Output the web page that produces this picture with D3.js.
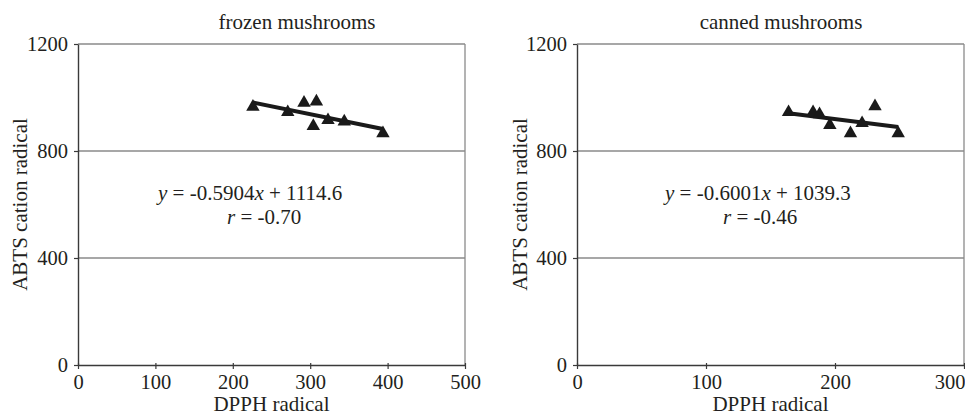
<!DOCTYPE html>
<html>
<head>
<meta charset="utf-8">
<script src="https://cdn.jsdelivr.net/npm/d3@7"></script>
<style>
  html, body { margin: 0; padding: 0; background: #fff; }
  svg text { font-family: "Liberation Serif", "DejaVu Serif", serif; fill: #231f20; }
</style>
</head>
<body>
<svg id="chart" width="965" height="417"></svg>
<script>
// DPPH (x) vs ABTS cation radical (y) for two mushroom preparations
const frozenDPPH = [226, 271, 292, 304, 308, 323, 344, 394];
const frozenABTS = [965, 945, 980, 893, 985, 915, 910, 866];
const frozenFit = { slope: -0.5904, intercept: 1114.6, r: "-0.70" };

const cannedDPPH = [164, 183, 188, 196, 212, 221, 231, 249];
const cannedABTS = [945, 945, 937, 897, 866, 904, 967, 866];
const cannedFit = { slope: -0.6001, intercept: 1039.3, r: "-0.46" };

const yTicks = [0, 400, 800, 1200];
const frozenXTicks = [0, 100, 200, 300, 400, 500];
const cannedXTicks = [0, 100, 200, 300];

const FONT = '"Liberation Serif", "DejaVu Serif", serif';
const FS = 21;
const TICK_FS = 20.5;
const svg = d3.select("#chart");

function panel(opts) {
  const { title, xs, ys, fit, xMax, xTicks, left, right, top, bottom,
          titleX, yLabelX, eqX, rX } = opts;
  const x = d3.scaleLinear().domain([0, xMax]).range([left, right]);
  const y = d3.scaleLinear().domain([0, 1200]).range([bottom, top]);
  const g = svg.append("g");

  // horizontal gridlines (including the top edge at 1200)
  g.selectAll("line.grid").data(yTicks.filter(d => d > 0)).join("line")
    .attr("class", "grid")
    .attr("x1", left).attr("x2", right)
    .attr("y1", d => y(d)).attr("y2", d => y(d))
    .attr("stroke", "#8a8a8a").attr("stroke-width", 1.3);

  // right border of plot area
  g.append("line")
    .attr("x1", right).attr("x2", right).attr("y1", top).attr("y2", bottom)
    .attr("stroke", "#8a8a8a").attr("stroke-width", 1.3);

  // axes
  const yAxis = d3.axisLeft(y).tickValues(yTicks).tickFormat(d3.format("d"))
    .tickSize(4).tickPadding(6).tickSizeOuter(0);
  const xAxis = d3.axisBottom(x).tickValues(xTicks).tickFormat(d3.format("d"))
    .tickSize(4).tickPadding(5).tickSizeOuter(0);

  const ya = g.append("g").attr("transform", `translate(${left},0)`).call(yAxis);
  const xa = g.append("g").attr("transform", `translate(0,${bottom})`).call(xAxis);
  [ya, xa].forEach(a => {
    a.attr("font-family", FONT).attr("font-size", TICK_FS);
    a.select(".domain").attr("stroke", "#3a3a3a").attr("stroke-width", 1.4);
    a.selectAll(".tick line").attr("stroke", "#3a3a3a").attr("stroke-width", 1.2);
    a.selectAll(".tick text")
      .attr("font-family", FONT)
      .attr("font-size", TICK_FS).attr("fill", "#231f20");
  });
  // ticks cross the x axis slightly
  xa.selectAll(".tick line").attr("y1", -2);
  // keep the last x label inside the window edge
  xa.selectAll(".tick text").filter(d => x(d) + 15 > 965)
    .attr("text-anchor", "end").attr("x", 965 - x(xMax));

  // regression line across the data range
  const xExt = d3.extent(xs);
  g.append("line")
    .attr("x1", x(xExt[0])).attr("y1", y(fit.slope * xExt[0] + fit.intercept))
    .attr("x2", x(xExt[1])).attr("y2", y(fit.slope * xExt[1] + fit.intercept))
    .attr("stroke", "#1a1a1a").attr("stroke-width", 4);

  // data points as filled triangles
  const tri = d3.symbol().type(d3.symbolTriangle).size(78);
  g.selectAll("path.pt").data(xs.map((v, i) => [v, ys[i]])).join("path")
    .attr("class", "pt")
    .attr("d", tri)
    .attr("transform", d => `translate(${x(d[0])},${y(d[1])})`)
    .attr("fill", "#1a1a1a");

  // titles
  g.append("text").attr("x", titleX).attr("y", 29).attr("text-anchor", "middle")
    .attr("font-family", FONT).attr("font-size", FS).text(title);
  g.append("text").attr("x", (left + right) / 2).attr("y", 411).attr("text-anchor", "middle")
    .attr("font-family", FONT).attr("font-size", FS).text("DPPH radical");
  g.append("text")
    .attr("transform", `translate(${yLabelX},${(top + bottom) / 2}) rotate(-90)`)
    .attr("text-anchor", "middle").attr("font-family", FONT).attr("font-size", FS)
    .text("ABTS cation radical");

  // equation and correlation coefficient
  const sign = fit.intercept >= 0 ? "+" : "-";
  const eq = g.append("text").attr("x", eqX).attr("y", 200)
    .attr("font-family", FONT).attr("font-size", 21);
  eq.append("tspan").attr("font-style", "italic").text("y");
  eq.append("tspan").text(` = ${fit.slope.toFixed(4)}`);
  eq.append("tspan").attr("font-style", "italic").text("x");
  eq.append("tspan").text(` ${sign} ${Math.abs(fit.intercept).toFixed(1)}`);

  const rt = g.append("text").attr("x", rX).attr("y", 224)
    .attr("font-family", FONT).attr("font-size", 21);
  rt.append("tspan").attr("font-style", "italic").text("r");
  rt.append("tspan").text(` = ${fit.r}`);
}

panel({
  title: "frozen mushrooms", xs: frozenDPPH, ys: frozenABTS, fit: frozenFit,
  xMax: 500, xTicks: frozenXTicks, left: 78, right: 465, top: 44, bottom: 365,
  titleX: 297, yLabelX: 27, eqX: 158, rX: 227
});
panel({
  title: "canned mushrooms", xs: cannedDPPH, ys: cannedABTS, fit: cannedFit,
  xMax: 300, xTicks: cannedXTicks, left: 577, right: 964, top: 44, bottom: 365,
  titleX: 781, yLabelX: 527, eqX: 665, rX: 723
});
</script>
</body>
</html>
